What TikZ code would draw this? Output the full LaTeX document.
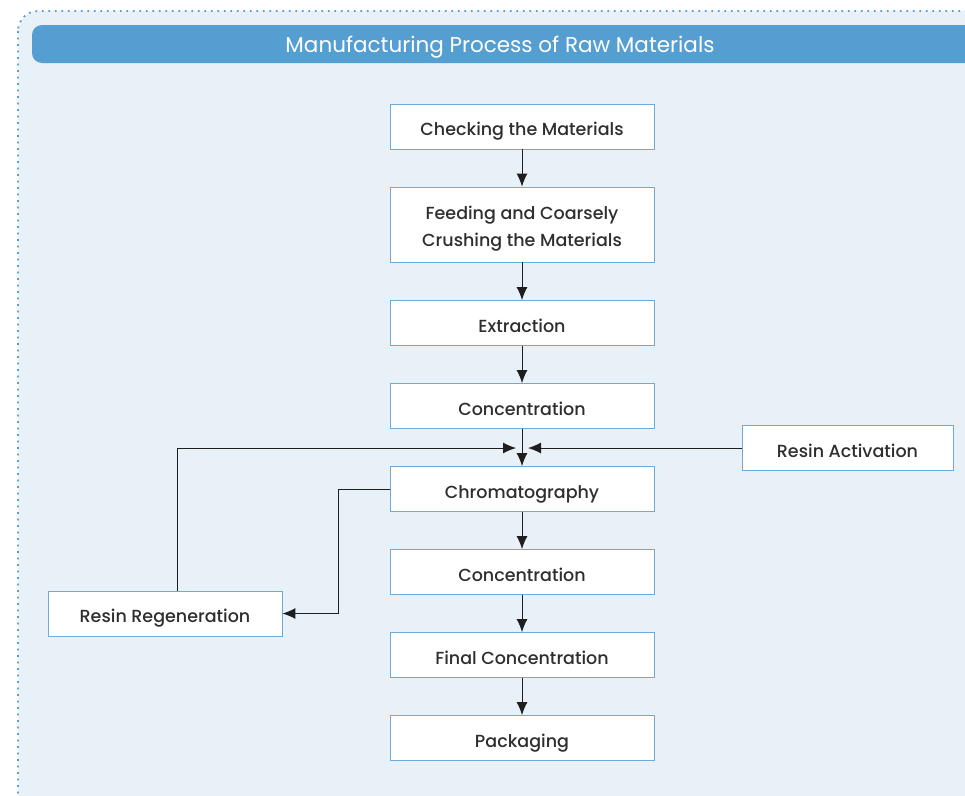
\documentclass[tikz,border=0pt]{standalone}
\usepackage{fontspec}
\setmainfont{Poppins}
\newfontfamily\medfont{Poppins Medium}
\usetikzlibrary{arrows.meta}
\definecolor{panelfill}{HTML}{E8F0F8}
\definecolor{panelline}{HTML}{5A9FD4}
\definecolor{titlefill}{HTML}{559ED1}
\definecolor{boxline}{HTML}{6AABDB}
\definecolor{txt}{HTML}{2E2E2E}
\definecolor{wirecol}{HTML}{1E1E1E}
\tikzset{
  stepbox/.style={draw=boxline, line width=0.9pt, fill=white, minimum width=264pt,
    minimum height=45pt, text=txt, font=\medfont\fontsize{17.5}{22}\selectfont, align=center,
    inner sep=0pt, text height=22pt, text depth=3.5pt},
  flow/.style={draw=wirecol, line width=1pt, -{Latex[length=13pt,width=11pt]}}
}
\begin{document}
\begin{tikzpicture}[x=1pt,y=-1pt]
\useasboundingbox (0,0) rectangle (965,795);
% panel
\fill[panelfill, rounded corners=20pt] (18,11) rectangle (990,820);
\draw[panelline, line width=1.8pt, dash pattern=on 1.8pt off 4.7pt, rounded corners=20pt] (18,11) rectangle (990,820);
% title bar
\fill[titlefill, rounded corners=10pt] (32,25) rectangle (975,63);
\node[text=white, font=\fontsize{21.5}{24}\selectfont] (title) at (500,47) {Manufacturing Process of Raw Materials};
% process steps
\node[stepbox] (check) at (522,126.5) {Checking the Materials};
\node[stepbox, minimum height=75pt, text height={}, text depth={}] (feed) at (522,224.5)
  {\rule{0pt}{21pt}Feeding and Coarsely\\[5pt]Crushing the Materials};
\node[stepbox] (extr) at (522,323) {Extraction};
\node[stepbox] (conc1) at (522,406) {Concentration};
\node[stepbox] (chrom) at (522,489) {Chromatography};
\node[stepbox] (conc2) at (522,572) {Concentration};
\node[stepbox] (final) at (522,655) {Final Concentration};
\node[stepbox] (pack) at (522,738) {Packaging};
\node[stepbox, minimum width=211pt] (act) at (847.5,448) {Resin Activation};
\node[stepbox, minimum width=234pt] (regen) at (165,613.5) {Resin Regeneration};
% junction points beside the Concentration -> Chromatography arrow
\coordinate (jl) at (516,448);
\coordinate (jr) at (528,448);
% main flow
\draw[flow] (check) -- (feed);
\draw[flow] (feed) -- (extr);
\draw[flow] (extr) -- (conc1);
\draw[flow] (conc1) -- (chrom);
\draw[flow] (chrom) -- (conc2);
\draw[flow] (conc2) -- (final);
\draw[flow] (final) -- (pack);
% resin loop
\draw[flow] (act.west) -- (jr);
\draw[flow] (regen.north -| 177,0) |- (jl);
\draw[flow] (chrom.west) -- (338,489) |- (regen.east);
\end{tikzpicture}
\end{document}
